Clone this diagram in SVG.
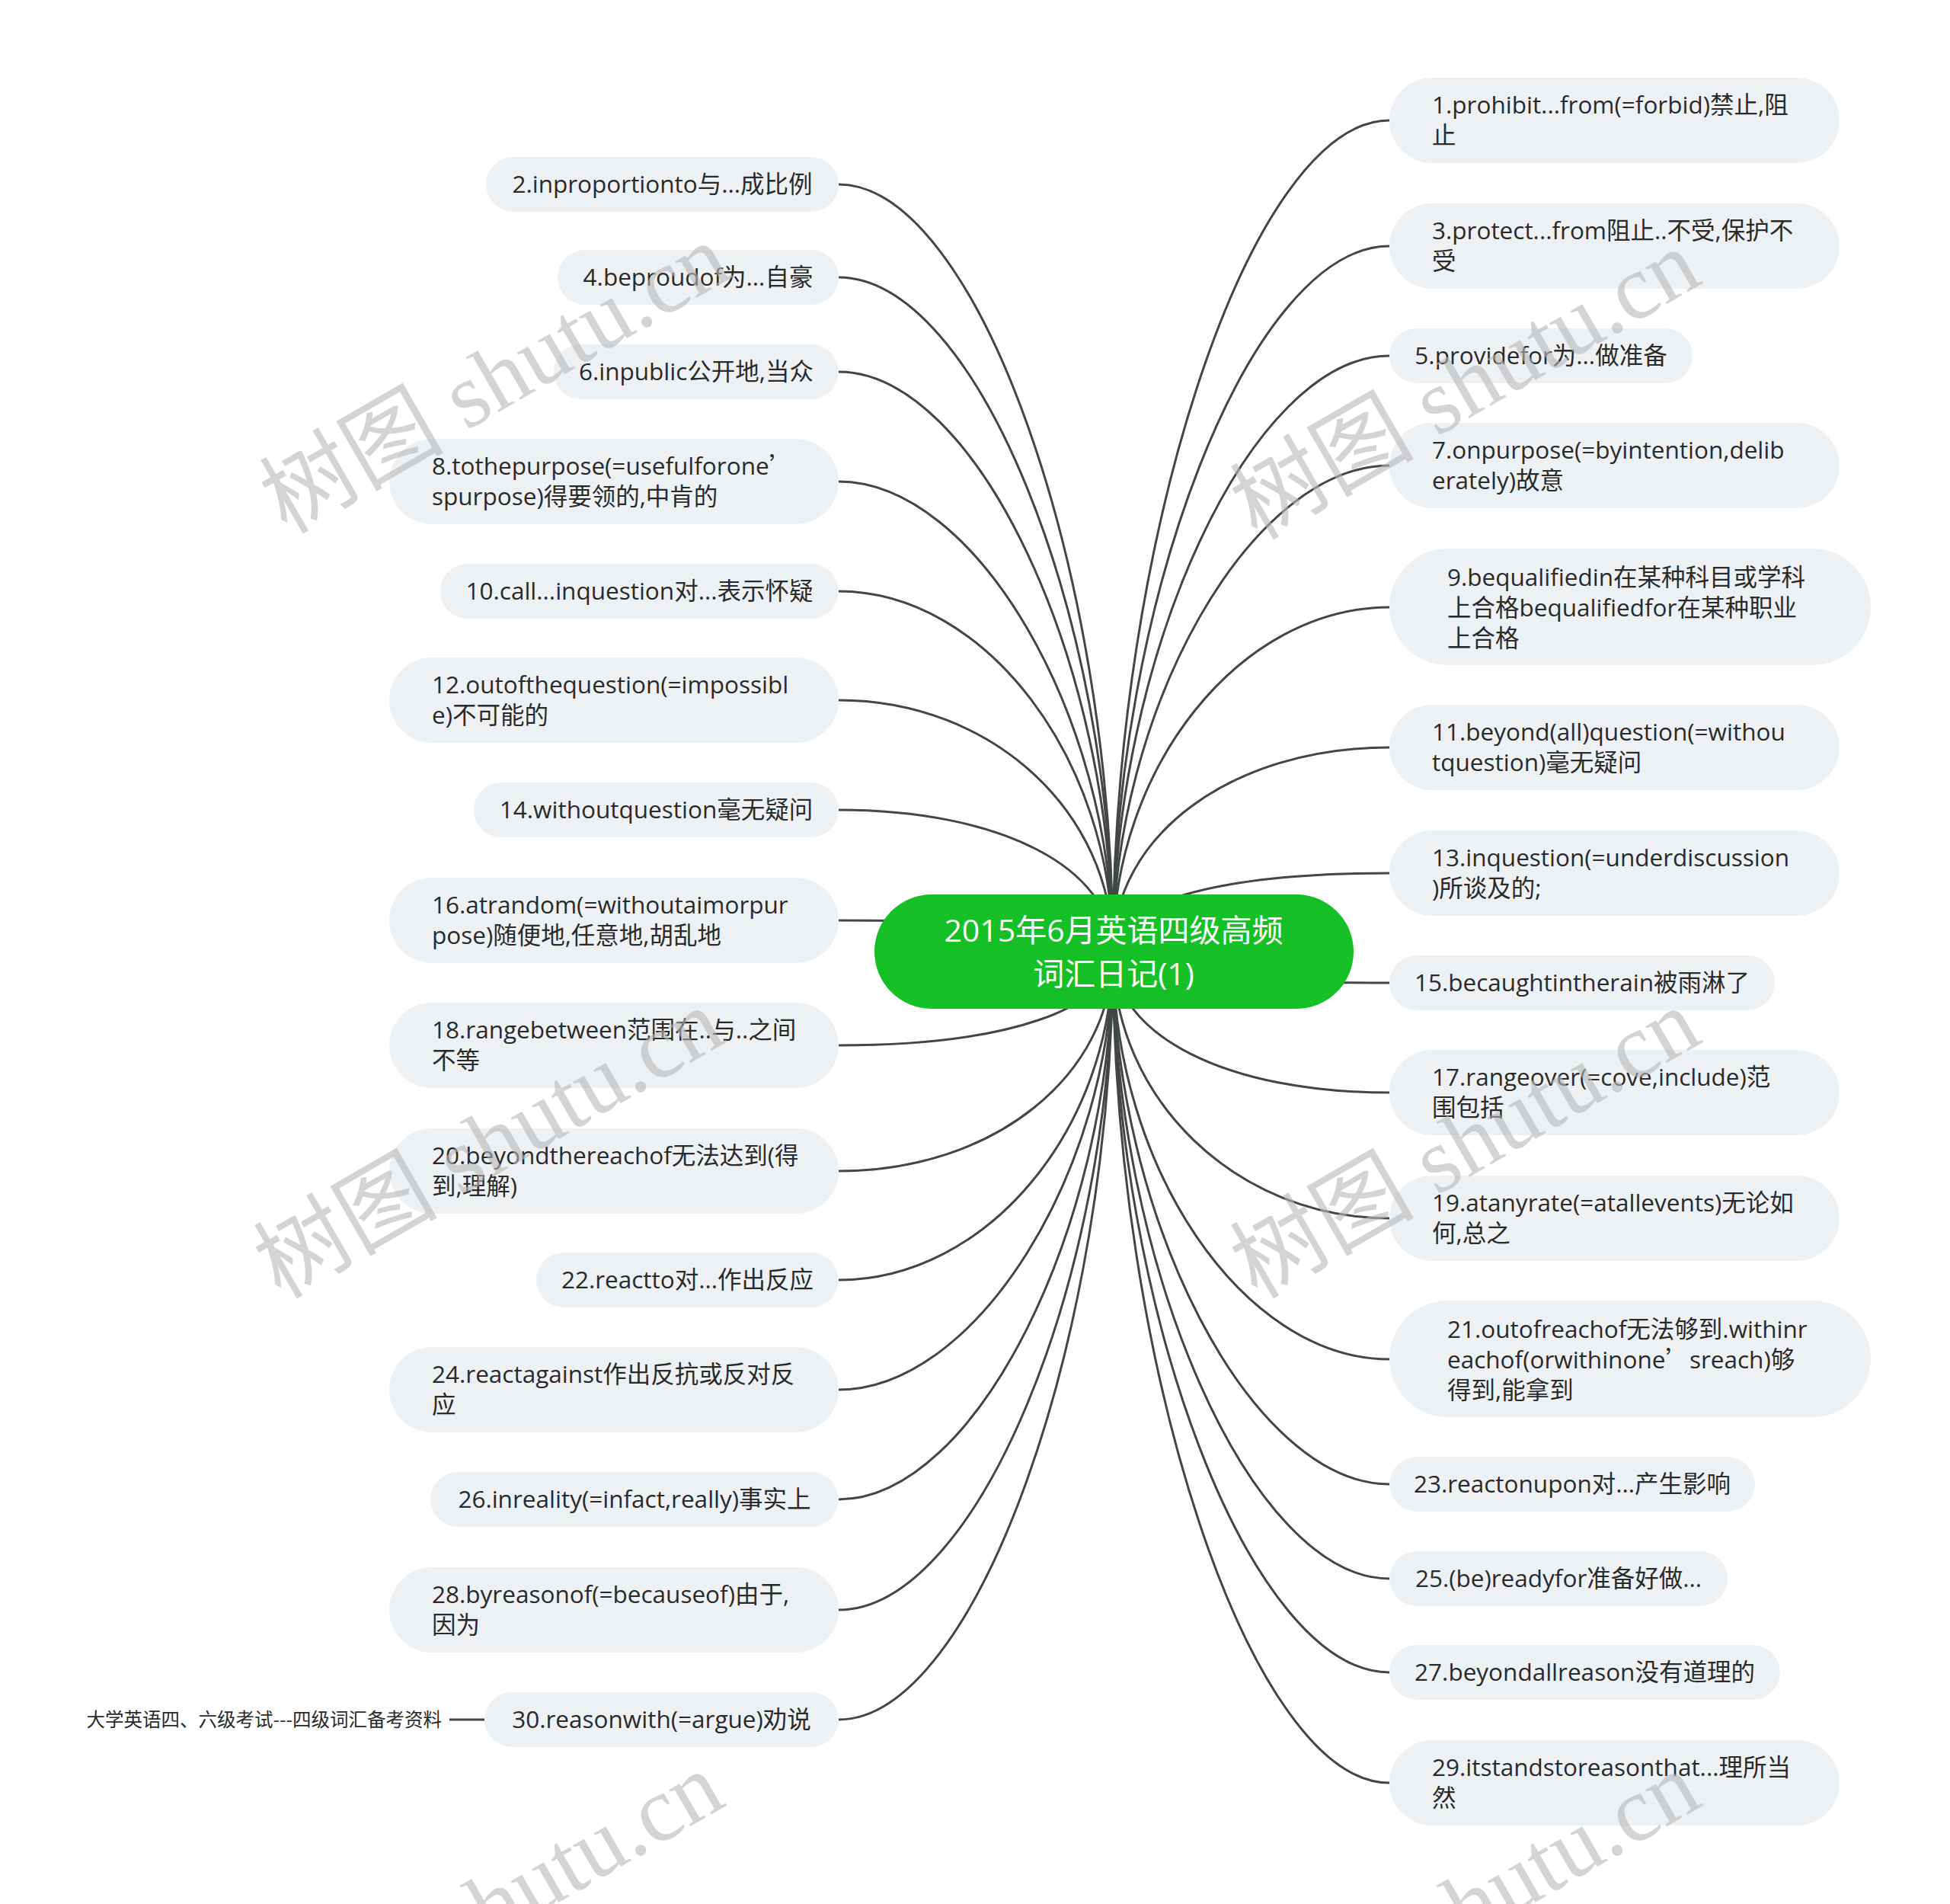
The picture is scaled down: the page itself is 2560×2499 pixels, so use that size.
<svg xmlns="http://www.w3.org/2000/svg" width="2560" height="2499" viewBox="0 0 2560 2499">
<style>
.pill{fill:#eef1f4}
.t{font-family:"Open Sans","Noto Sans CJK SC",sans-serif;font-size:31.5px;fill:#2a2a2a}
.m{text-anchor:middle}
.cj{font-family:"Noto Sans CJK SC",sans-serif}
.root{fill:#14c026}
.rt{font-family:"Open Sans","Noto Sans CJK SC",sans-serif;font-size:41px;fill:#ffffff;text-anchor:middle}
.link{fill:none;stroke:#434743;stroke-width:3}
.ann{font-family:"Noto Sans CJK SC",sans-serif;font-size:24.5px;fill:#2a2a2a;text-anchor:end}
.wm{font-family:"Liberation Serif","Noto Sans CJK SC",serif;font-size:121px;fill:#b8b8b8;opacity:0.6}
</style>
<rect width="2560" height="2499" fill="#ffffff"/>
<g id="connectors">
<path class="link" d="M1101,242 C1281,242 1461,745.5 1461,1249"/>
<path class="link" d="M1101,364 C1281,364 1461,806.5 1461,1249"/>
<path class="link" d="M1101,488 C1281,488 1461,868.5 1461,1249"/>
<path class="link" d="M1101,632 C1281,632 1461,940.5 1461,1249"/>
<path class="link" d="M1101,776 C1293.6,776 1461,996 1461,1249"/>
<path class="link" d="M1101,919 C1301.5,919 1461,1065.2 1461,1249"/>
<path class="link" d="M1101,1063 C1313.8,1063 1461,1139.1 1461,1249"/>
<path class="link" d="M1101,1208 C1334.3,1208 1461,1222.4 1461,1249"/>
<path class="link" d="M1101,1372 C1321.7,1372 1461,1324.4 1461,1249"/>
<path class="link" d="M1101,1537 C1304.4,1537 1461,1411.7 1461,1249"/>
<path class="link" d="M1101,1680 C1295.4,1680 1461,1481.7 1461,1249"/>
<path class="link" d="M1101,1824 C1281,1824 1461,1536.5 1461,1249"/>
<path class="link" d="M1101,1968 C1281,1968 1461,1608.5 1461,1249"/>
<path class="link" d="M1101,2113 C1281,2113 1461,1681 1461,1249"/>
<path class="link" d="M1101,2257 C1281,2257 1461,1753 1461,1249"/>
<path class="link" d="M1824,158 C1643,158 1461,703.5 1461,1249"/>
<path class="link" d="M1824,323 C1643,323 1461,786 1461,1249"/>
<path class="link" d="M1824,467 C1643,467 1461,858 1461,1249"/>
<path class="link" d="M1824,611 C1643,611 1461,930 1461,1249"/>
<path class="link" d="M1824,797 C1628.7,797 1461,1005.8 1461,1249"/>
<path class="link" d="M1824,981 C1617.1,981 1461,1096.2 1461,1249"/>
<path class="link" d="M1824,1146 C1598.6,1146 1461,1185 1461,1249"/>
<path class="link" d="M1824,1290 C1588.8,1290 1461,1275.6 1461,1249"/>
<path class="link" d="M1824,1434 C1609.1,1434 1461,1358.5 1461,1249"/>
<path class="link" d="M1824,1599 C1623.3,1599 1461,1442.6 1461,1249"/>
<path class="link" d="M1824,1784 C1632,1784 1461,1532 1461,1249"/>
<path class="link" d="M1824,1948 C1643,1948 1461,1598.5 1461,1249"/>
<path class="link" d="M1824,2072 C1643,2072 1461,1660.5 1461,1249"/>
<path class="link" d="M1824,2195 C1643,2195 1461,1722 1461,1249"/>
<path class="link" d="M1824,2340 C1643,2340 1461,1794.5 1461,1249"/>
<path class="link" d="M590,2257 H636"/>
</g>
<g id="root">
<rect class="root" x="1148" y="1174" width="629" height="150" rx="75"/>
<text class="rt" x="1462" y="1236">2015年6月英语四级高频</text>
<text class="rt" x="1462" y="1293">词汇日记(1)</text>
</g>
<g id="n2"><rect class="pill" x="638" y="206" width="463" height="72" rx="36"/><text class="t m" x="869.5" y="253">2.inproportionto与...成比例</text></g>
<g id="n4"><rect class="pill" x="732" y="328" width="369" height="72" rx="36"/><text class="t m" x="916.5" y="375">4.beproudof为...自豪</text></g>
<g id="n6"><rect class="pill" x="727" y="452" width="374" height="72" rx="36"/><text class="t m" x="914" y="499">6.inpublic公开地,当众</text></g>
<g id="n8"><rect class="pill" x="511" y="576" width="590" height="112" rx="56"/><text class="t" x="567" y="623">8.tothepurpose(=usefulforone<tspan class="cj">’</tspan></text><text class="t" x="567" y="663">spurpose)得要领的,中肯的</text></g>
<g id="n10"><rect class="pill" x="578" y="740" width="523" height="72" rx="36"/><text class="t m" x="839.5" y="787">10.call...inquestion对...表示怀疑</text></g>
<g id="n12"><rect class="pill" x="511" y="863" width="590" height="112" rx="56"/><text class="t" x="567" y="910">12.outofthequestion(=impossibl</text><text class="t" x="567" y="950">e)不可能的</text></g>
<g id="n14"><rect class="pill" x="622" y="1027" width="479" height="72" rx="36"/><text class="t m" x="861.5" y="1074">14.withoutquestion毫无疑问</text></g>
<g id="n16"><rect class="pill" x="511" y="1152" width="590" height="112" rx="56"/><text class="t" x="567" y="1199">16.atrandom(=withoutaimorpur</text><text class="t" x="567" y="1239">pose)随便地,任意地,胡乱地</text></g>
<g id="n18"><rect class="pill" x="511" y="1316" width="590" height="112" rx="56"/><text class="t" x="567" y="1363">18.rangebetween范围在..与..之间</text><text class="t" x="567" y="1403">不等</text></g>
<g id="n20"><rect class="pill" x="511" y="1481" width="590" height="112" rx="56"/><text class="t" x="567" y="1528">20.beyondthereachof无法达到(得</text><text class="t" x="567" y="1568">到,理解)</text></g>
<g id="n22"><rect class="pill" x="704" y="1644" width="397" height="72" rx="36"/><text class="t m" x="902.5" y="1691">22.reactto对...作出反应</text></g>
<g id="n24"><rect class="pill" x="511" y="1768" width="590" height="112" rx="56"/><text class="t" x="567" y="1815">24.reactagainst作出反抗或反对反</text><text class="t" x="567" y="1855">应</text></g>
<g id="n26"><rect class="pill" x="565" y="1932" width="536" height="72" rx="36"/><text class="t m" x="833" y="1979">26.inreality(=infact,really)事实上</text></g>
<g id="n28"><rect class="pill" x="511" y="2057" width="590" height="112" rx="56"/><text class="t" x="567" y="2104">28.byreasonof(=becauseof)由于,</text><text class="t" x="567" y="2144">因为</text></g>
<g id="n30"><rect class="pill" x="636" y="2221" width="465" height="72" rx="36"/><text class="t m" x="868.5" y="2268">30.reasonwith(=argue)劝说</text></g>
<g id="ann30"><text class="ann" x="580" y="2266">大学英语四、六级考试---四级词汇备考资料</text></g>
<g id="n1"><rect class="pill" x="1824" y="102" width="591" height="112" rx="56"/><text class="t" x="1880" y="149">1.prohibit...from(=forbid)禁止,阻</text><text class="t" x="1880" y="189">止</text></g>
<g id="n3"><rect class="pill" x="1824" y="267" width="591" height="112" rx="56"/><text class="t" x="1880" y="314">3.protect...from阻止..不受,保护不</text><text class="t" x="1880" y="354">受</text></g>
<g id="n5"><rect class="pill" x="1824" y="431" width="398" height="72" rx="36"/><text class="t m" x="2023" y="478">5.providefor为...做准备</text></g>
<g id="n7"><rect class="pill" x="1824" y="555" width="591" height="112" rx="56"/><text class="t" x="1880" y="602">7.onpurpose(=byintention,delib</text><text class="t" x="1880" y="642">erately)故意</text></g>
<g id="n9"><rect class="pill" x="1824" y="720" width="632" height="153" rx="76.5"/><text class="t" x="1900" y="768.5">9.bequalifiedin在某种科目或学科</text><text class="t" x="1900" y="808.5">上合格bequalifiedfor在某种职业</text><text class="t" x="1900" y="848.5">上合格</text></g>
<g id="n11"><rect class="pill" x="1824" y="925" width="591" height="112" rx="56"/><text class="t" x="1880" y="972">11.beyond(all)question(=withou</text><text class="t" x="1880" y="1012">tquestion)毫无疑问</text></g>
<g id="n13"><rect class="pill" x="1824" y="1090" width="591" height="112" rx="56"/><text class="t" x="1880" y="1137">13.inquestion(=underdiscussion</text><text class="t" x="1880" y="1177">)所谈及的;</text></g>
<g id="n15"><rect class="pill" x="1824" y="1254" width="506" height="72" rx="36"/><text class="t m" x="2077" y="1301">15.becaughtintherain被雨淋了</text></g>
<g id="n17"><rect class="pill" x="1824" y="1378" width="591" height="112" rx="56"/><text class="t" x="1880" y="1425">17.rangeover(=cove,include)范</text><text class="t" x="1880" y="1465">围包括</text></g>
<g id="n19"><rect class="pill" x="1824" y="1543" width="591" height="112" rx="56"/><text class="t" x="1880" y="1590">19.atanyrate(=atallevents)无论如</text><text class="t" x="1880" y="1630">何,总之</text></g>
<g id="n21"><rect class="pill" x="1824" y="1707" width="632" height="153" rx="76.5"/><text class="t" x="1900" y="1755.5">21.outofreachof无法够到.withinr</text><text class="t" x="1900" y="1795.5">eachof(orwithinone<tspan class="cj">’</tspan>sreach)够</text><text class="t" x="1900" y="1835.5">得到,能拿到</text></g>
<g id="n23"><rect class="pill" x="1824" y="1912" width="480" height="72" rx="36"/><text class="t m" x="2064" y="1959">23.reactonupon对...产生影响</text></g>
<g id="n25"><rect class="pill" x="1824" y="2036" width="444" height="72" rx="36"/><text class="t m" x="2046" y="2083">25.(be)readyfor准备好做...</text></g>
<g id="n27"><rect class="pill" x="1824" y="2159" width="513" height="72" rx="36"/><text class="t m" x="2080.5" y="2206">27.beyondallreason没有道理的</text></g>
<g id="n29"><rect class="pill" x="1824" y="2284" width="591" height="112" rx="56"/><text class="t" x="1880" y="2331">29.itstandstoreasonthat...理所当</text><text class="t" x="1880" y="2371">然</text></g>
<g id="watermarks">
<text class="wm" transform="translate(376,702) rotate(-30)">树图 shutu.cn</text>
<text class="wm" transform="translate(1650,710) rotate(-30)">树图 shutu.cn</text>
<text class="wm" transform="translate(368,1706) rotate(-30)">树图 shutu.cn</text>
<text class="wm" transform="translate(1650,1706) rotate(-30)">树图 shutu.cn</text>
<text class="wm" transform="translate(368,2708) rotate(-30)">树图 shutu.cn</text>
<text class="wm" transform="translate(1650,2708) rotate(-30)">树图 shutu.cn</text>
</g>
</svg>
